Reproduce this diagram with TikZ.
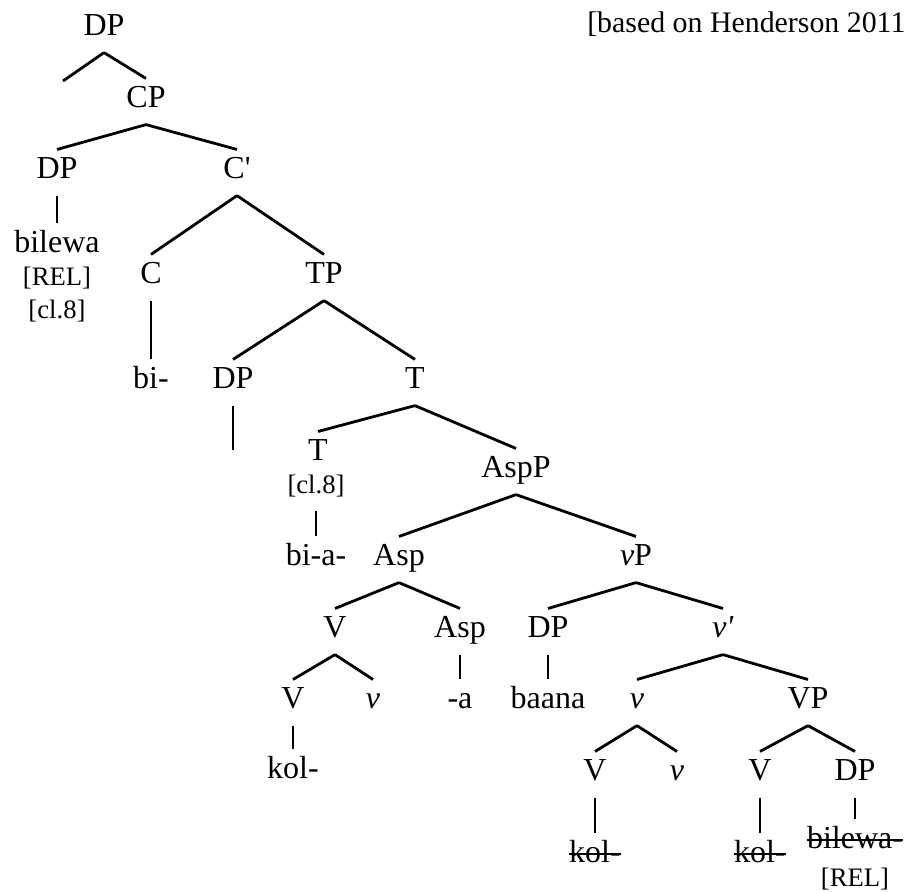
\documentclass[tikz,border=0pt]{standalone}
\usepackage{fontspec}
\setmainfont{Liberation Serif}
\usepackage{tikz}
\tikzset{
  cat/.style={inner sep=0pt, anchor=base, text height=10.5pt, text depth=6.4pt, font=\fontsize{12}{14}\selectfont},
  feat/.style={inner sep=0pt, anchor=base, text height=9pt, text depth=6.4pt, font=\fontsize{10}{12}\selectfont},
  branch/.style={draw=black, line width=1.05pt}
}
\newcommand{\nuit}{\textit{ν}}
\newsavebox{\strikebox}
\newcommand{\strike}[1]{\sbox{\strikebox}{#1}\rlap{\rule[0.23em]{\wd\strikebox}{0.75pt}}\usebox{\strikebox}}

\begin{document}
\begin{tikzpicture}[x=0.375pt, y=-0.375pt]
  \useasboundingbox (0,0) rectangle (907,891);

  \node [cat, anchor=base east, font=\fontsize{11.2}{13}\selectfont] (src) at (906,32) {[based on Henderson 2011};

  \node [cat] (dp) at (104,35) {DP};
  \coordinate (dpgap) at (63,81);
  \node [cat] (cp) at (146,107) {CP};
  \node [cat] (dpspec) at (57,178) {DP};
  \node [cat] (cbar) at (237,178) {C\textquotesingle};
  \node [cat] (rel) at (57,252) {bilewa};
  \node [feat] (relf) at (57,285) {[REL]};
  \node [feat] (clf) at (57,318) {[cl.8]};
  \node [cat] (c) at (151,283) {C};
  \node [cat] (tp) at (324,283) {TP};
  \node [cat] (bi) at (151,388) {bi-};
  \node [cat] (dpt) at (233,388) {DP};
  \coordinate (dptrace) at (233,450);
  \node [cat] (tbar) at (415,388) {T};
  \node [cat] (t) at (318,460) {T};
  \node [feat] (tf) at (316,493) {[cl.8]};
  \node [cat] (bia) at (316,565) {bi-a-};
  \node [cat] (aspp) at (516,477) {AspP};
  \node [cat] (asp) at (399,565) {Asp};
  \node [cat] (vp) at (636,565) {\nuit P};
  \node [cat] (vc) at (335,637) {V};
  \node [cat] (aspt) at (460,637) {Asp};
  \node [cat] (dpv) at (548,637) {DP};
  \node [cat] (vbar) at (723,637) {\nuit\textit{\textquotesingle}};
  \node [cat] (vroot) at (293,708) {V};
  \node [cat] (vlow) at (373,708) {\nuit};
  \node [cat] (sfx) at (460,708) {-a};
  \node [cat] (baana) at (548,708) {baana};
  \node [cat] (vhead) at (637,708) {\nuit};
  \node [cat] (vpp) at (808,708) {VP};
  \node [cat] (kol) at (293,778) {kol-};
  \node [cat] (va) at (595,780) {V};
  \node [cat] (vb) at (677,780) {\nuit};
  \node [cat] (vv) at (760,780) {V};
  \node [cat] (dpo) at (855,780) {DP};
  \node [cat] (kola) at (595,862) {\strike{kol-}};
  \node [cat] (kolb) at (760,862) {\strike{kol-}};
  \node [cat] (bilo) at (855,848) {\strike{bilewa-}};
  \node [feat] (relo) at (855,886) {[REL]};

  \draw [branch] (dp.south) -- (dpgap);
  \draw [branch] (dp.south) -- (cp.north);
  \draw [branch] (cp.south) -- (dpspec.north);
  \draw [branch] (cp.south) -- (cbar.north);
  \draw [branch] (dpspec.south) -- (rel.north);
  \draw [branch] (cbar.south) -- (c.north);
  \draw [branch] (cbar.south) -- (tp.north);
  \draw [branch] (c.south) -- (bi.north);
  \draw [branch] (tp.south) -- (dpt.north);
  \draw [branch] (tp.south) -- (tbar.north);
  \draw [branch] (dpt.south) -- (dptrace);
  \draw [branch] (tbar.south) -- (t.north);
  \draw [branch] (tbar.south) -- (aspp.north);
  \draw [branch] (tf.south) -- (bia.north);
  \draw [branch] (aspp.south) -- (asp.north);
  \draw [branch] (aspp.south) -- (vp.north);
  \draw [branch] (asp.south) -- (vc.north);
  \draw [branch] (asp.south) -- (aspt.north);
  \draw [branch] (vc.south) -- (vroot.north);
  \draw [branch] (vc.south) -- (vlow.north);
  \draw [branch] (aspt.south) -- (sfx.north);
  \draw [branch] (vroot.south) -- (kol.north);
  \draw [branch] (vp.south) -- (dpv.north);
  \draw [branch] (vp.south) -- (vbar.north);
  \draw [branch] (dpv.south) -- (baana.north);
  \draw [branch] (vbar.south) -- (vhead.north);
  \draw [branch] (vbar.south) -- (vpp.north);
  \draw [branch] (vhead.south) -- (va.north);
  \draw [branch] (vhead.south) -- (vb.north);
  \draw [branch] (vpp.south) -- (vv.north);
  \draw [branch] (vpp.south) -- (dpo.north);
  \draw [branch] (va.south) -- (kola.north);
  \draw [branch] (vv.south) -- (kolb.north);
  \draw [branch] (dpo.south) -- (bilo.north);
\end{tikzpicture}
\end{document}
